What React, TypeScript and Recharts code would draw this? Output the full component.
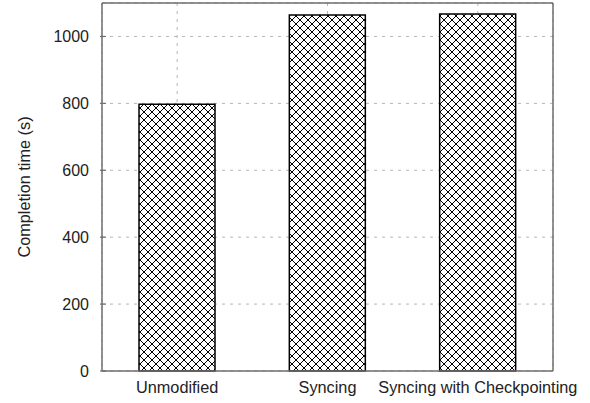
import React from "react";
import { BarChart, Bar, XAxis, YAxis, CartesianGrid } from "recharts";

const categories = ["Unmodified", "Syncing", "Syncing with Checkpointing"];
const completionTimes = [797, 1064, 1067];
const yTicks = [0, 200, 400, 600, 800, 1000];

const data = categories.map((name, i) => ({ name, value: completionTimes[i] }));

const FONT = "'Liberation Sans', Arial, Helvetica, sans-serif";
const TEXT = "#222";
const FRAME = "#6e6e6e";

function YTick({ x, y, payload }: any) {
  return (
    <g>
      <line x1={x} x2={x + 6} y1={y} y2={y} stroke={FRAME} strokeWidth={1.2} />
      <text x={x - 11} y={y} dy={5.5} textAnchor="end" fontSize={16} fill={TEXT} fontFamily={FONT}>
        {payload.value}
      </text>
    </g>
  );
}

function XTick({ x, y, payload }: any) {
  return (
    <text x={x} y={y} dy={20} textAnchor="middle" fontSize={16.3} fill={TEXT} fontFamily={FONT}>
      {payload.value}
    </text>
  );
}

export default function App() {
  return (
    <div style={{ position: "absolute", left: 0, top: 0, width: 590, height: 403, background: "#fff" }}>
      <BarChart
        width={590}
        height={403}
        data={data}
        margin={{ top: 2, right: 36, bottom: 2, left: 0 }}
        style={{ overflow: "visible" }}
      >
        <defs>
          <pattern id="hatch" patternUnits="userSpaceOnUse" width={8} height={8}>
            <rect width={8} height={8} fill="#fff" />
            <path d="M0,0 L8,8 M8,0 L0,8 M-2,6 L2,10 M6,-2 L10,2 M-2,2 L2,-2 M6,10 L10,6" stroke="#000" strokeWidth={1} />
          </pattern>
        </defs>
        <CartesianGrid stroke="#b5b5b5" strokeDasharray="3 5" />
        <XAxis
          dataKey="name"
          height={30}
          tickLine={false}
          tickSize={0}
          tick={<XTick />}
          axisLine={{ stroke: FRAME, strokeWidth: 1.5 }}
          interval={0}
        />
        <XAxis
          xAxisId="top"
          orientation="top"
          dataKey="name"
          height={1}
          tick={false}
          tickLine={false}
          axisLine={{ stroke: FRAME, strokeWidth: 1.5, strokeDasharray: "none" }}
        />
        <YAxis
          domain={[0, 1100]}
          ticks={yTicks}
          width={102}
          tickLine={false}
          tickSize={0}
          tick={<YTick />}
          axisLine={{ stroke: FRAME, strokeWidth: 1.5 }}
          label={{
            value: "Completion time (s)",
            angle: -90,
            position: "insideLeft",
            offset: 0,
            dx: 24,
            style: { fontSize: 16.3, fill: TEXT, fontFamily: FONT, textAnchor: "middle" },
          }}
        />
        <YAxis
          yAxisId="right"
          orientation="right"
          domain={[0, 1100]}
          width={1}
          tick={false}
          tickLine={false}
          axisLine={{ stroke: FRAME, strokeWidth: 1.5, strokeDasharray: "none" }}
        />
        <Bar dataKey="value" fill="url(#hatch)" stroke="#000" strokeWidth={1.5} barSize={76} isAnimationActive={false} />
      </BarChart>
    </div>
  );
}
